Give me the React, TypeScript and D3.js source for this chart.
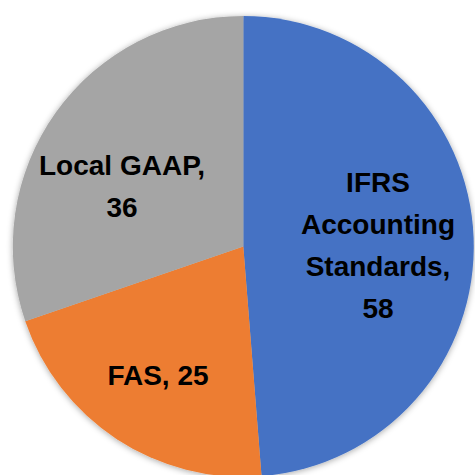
import React from "react";
import * as d3 from "d3";

const categories = ["IFRS Accounting Standards", "FAS", "Local GAAP"];
const values = [58, 25, 36];
const colors = ["#4472C4", "#ED7D31", "#A5A5A5"];
// label lines as drawn in the chart
const labelLines = [
  ["IFRS", "Accounting", "Standards,", "58"],
  ["FAS, 25"],
  ["Local GAAP,", "36"],
];
// label centres (x, first baseline)
const labelPos: [number, number][] = [
  [378, 192],
  [158, 385],
  [122, 175],
];

const W = 475;
const H = 475;

const App: React.FC = () => {
  const cx = 243.3;
  const cy = 246.5;
  const r = 230.5;

  const pie = d3
    .pie<number>()
    .sort(null)
    .value((d) => d);
  const arcs = pie(values);
  const arc = d3.arc<d3.PieArcDatum<number>>().innerRadius(0).outerRadius(r);

  const lineH = 42;

  return (
    <svg
      width={W}
      height={H}
      style={{ position: "absolute", left: 0, top: 0, background: "#fff" }}
      fontFamily="'Liberation Sans', Arial, sans-serif"
    >
      <defs>
        <filter id="shadow" x="-10%" y="-10%" width="120%" height="120%">
          <feDropShadow dx="0" dy="1" stdDeviation="3" floodColor="#000" floodOpacity="0.35" />
        </filter>
      </defs>
      <g transform={`translate(${cx},${cy})`} filter="url(#shadow)">
        {arcs.map((a, i) => (
          <path key={categories[i]} d={arc(a) || ""} fill={colors[i]} />
        ))}
      </g>
      {labelLines.map((lines, i) => (
        <text
          key={categories[i]}
          x={labelPos[i][0]}
          y={labelPos[i][1]}
          textAnchor="middle"
          fontSize={28}
          fontWeight="bold"
          fill="#000"
        >
          {lines.map((l, j) => (
            <tspan key={j} x={labelPos[i][0]} dy={j === 0 ? 0 : lineH}>
              {l}
            </tspan>
          ))}
        </text>
      ))}
    </svg>
  );
};

export default App;
